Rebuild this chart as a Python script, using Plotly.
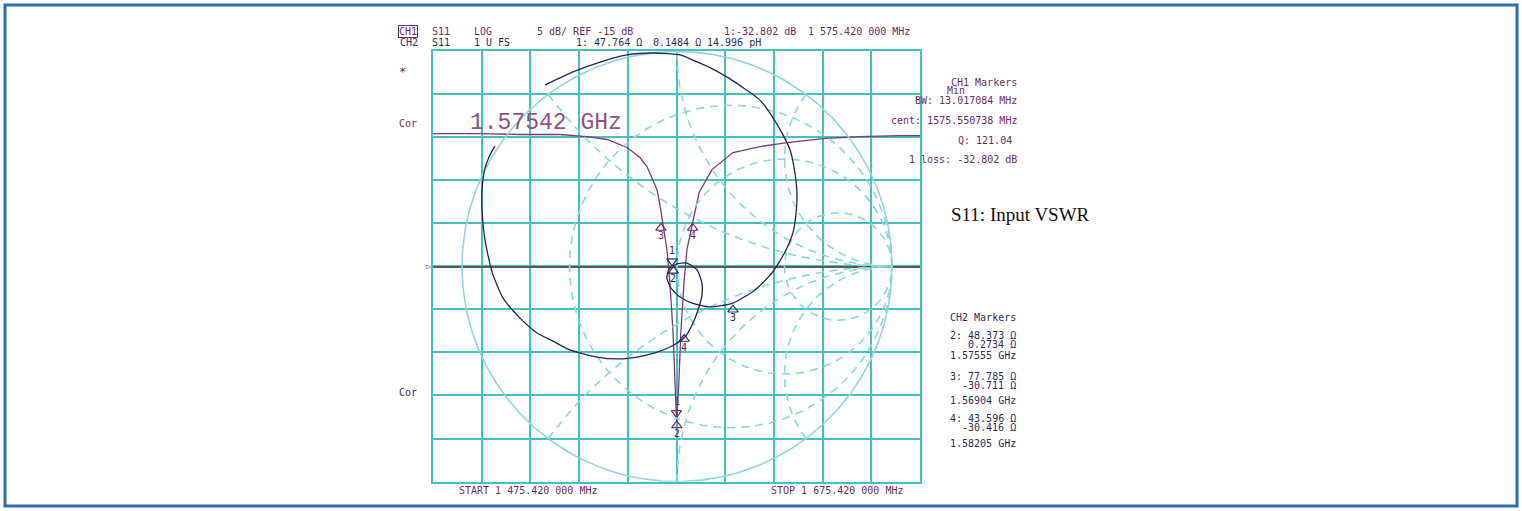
import numpy as np
import plotly.graph_objects as go

W, H = 1522, 511

# ---------------- data ----------------
# CH1 : S11 log magnitude (frequency in MHz, value in dB)
ch1_freq = [1475.42, 1494.7, 1511.1, 1527.6, 1538.7, 1546.9, 1555.1, 1560.4, 1563.3,
            1565.8, 1567.4, 1568.6, 1569.5, 1570.0, 1571.5, 1572.7, 1574.0, 1574.8,
            1575.2, 1575.42, 1575.8, 1576.4, 1577.2, 1578.5, 1579.7, 1581.8, 1584.7,
            1590.0, 1598.6, 1609.7, 1620.8, 1635.6, 1650.8, 1667.2, 1675.42]
ch1_db = [0.37, 0.37, 0.26, 0.26, 0.02, -0.32, -1.25, -2.41, -3.46,
          -4.97, -6.13, -7.87, -9.26, -10.4, -13.1, -16.9, -22.7, -28.5,
          -31.6, -32.8, -31.6, -28.5, -22.7, -16.9, -13.1, -10.4, -6.47,
          -3.81, -1.83, -1.14, -0.67, -0.21, 0.02, 0.14, 0.14]

# CH1 markers
ch1_mk_id = ["1", "2", "3", "4"]
ch1_mk_freq = [1575.42, 1575.55, 1569.04, 1582.05]
ch1_mk_db = [-32.6, -32.9, -10.0, -10.0]

# CH2 : S11 on Smith chart (reflection coefficient, sweep order)
ch2_gre = [-0.614, -0.484, -0.358, -0.233, -0.112, 0.014, 0.074, 0.153, 0.233, 0.316,
           0.386, 0.447, 0.493, 0.526, 0.544, 0.558, 0.553, 0.540, 0.502, 0.442,
           0.363, 0.260, 0.153, 0.070, 0.014, -0.028, -0.047, -0.037, 0.000, 0.047,
           0.093, 0.116, 0.116, 0.098, 0.070, 0.037, -0.023, -0.102, -0.186, -0.279,
           -0.372, -0.498, -0.577, -0.651, -0.730, -0.809, -0.860, -0.893, -0.907, -0.907,
           -0.893, -0.870, -0.847]
ch2_gim = [0.844, 0.905, 0.951, 0.984, 0.993, 0.984, 0.960, 0.925, 0.881, 0.826,
           0.774, 0.691, 0.612, 0.542, 0.463, 0.342, 0.240, 0.160, 0.067, -0.030,
           -0.109, -0.170, -0.188, -0.170, -0.142, -0.100, -0.053, -0.012, 0.012, 0.016,
           -0.016, -0.077, -0.133, -0.202, -0.272, -0.328, -0.370, -0.402, -0.421, -0.430,
           -0.421, -0.388, -0.347, -0.309, -0.240, -0.147, -0.026, 0.123, 0.263, 0.356,
           0.458, 0.519, 0.560]

# CH2 markers (impedance, ohms)
Z0 = 50.0
ch2_mk_id = ["1", "2", "3", "4"]
ch2_mk_r = [47.764, 48.373, 77.785, 43.596]
ch2_mk_x = [0.1484, 0.2734, -30.711, -30.416]

# Smith chart graticule values
SMITH_R = [1 / 3, 1, 3]
SMITH_X = [0.5, 1, 2]

# frequency span / scale
F_START, F_STOP, F_DIV = 1475.42, 1675.42, 20.0
REF_DB, DB_DIV = -15.0, 5.0

# ---------------- styling ----------------
MONO = "DejaVu Sans Mono, Liberation Mono, monospace"
C_CH1 = "#6e2c66"
C_CH2 = "#2c2e5e"
C_GRID = "#44c0c2"
C_SMITH = "#8fd7d9"
C_TR1 = "#7d3a75"
C_TR2 = "#242658"

GX0, GX1, GY0, GY1 = 433, 920, 50.5, 481.7   # grid box in pixels
CX, CY, RAD = 677, 266.5, 215.0             # smith centre / radius in pixels
DB_PER_PX = (10 * DB_DIV) / (GY1 - GY0)
G_PER_PX = 1 / RAD
TRI_OFF = 5.0  # px, so that the triangle tip sits on the trace

fig = go.Figure()

# ---- Smith graticule (overlay axes x2/y2) ----
t = np.linspace(0, 2 * np.pi, 721)
fig.add_trace(go.Scatter(x=np.cos(t), y=np.sin(t), mode="lines", xaxis="x2", yaxis="y2",
                         line=dict(color=C_SMITH, width=1.6), hoverinfo="skip", showlegend=False))
for r in SMITH_R:
    c, rr = r / (1 + r), 1 / (1 + r)
    fig.add_trace(go.Scatter(x=c + rr * np.cos(t), y=rr * np.sin(t), mode="lines",
                             xaxis="x2", yaxis="y2",
                             line=dict(color=C_SMITH, width=1.6, dash="8px,6px"),
                             hoverinfo="skip", showlegend=False))
rs = np.concatenate([[0.0], np.logspace(-3, 3, 600)])
for xv in SMITH_X:
    for s in (1, -1):
        z = rs + 1j * s * xv
        g = (z - 1) / (z + 1)
        fig.add_trace(go.Scatter(x=g.real, y=g.imag, mode="lines", xaxis="x2", yaxis="y2",
                                 line=dict(color=C_SMITH, width=1.6, dash="8px,6px"),
                                 hoverinfo="skip", showlegend=False))

# ---- CH1 log-mag trace ----
fig.add_trace(go.Scatter(x=ch1_freq, y=ch1_db, mode="lines", xaxis="x", yaxis="y",
                         line=dict(color=C_TR1, width=1.3), hoverinfo="skip", showlegend=False))
# ---- CH2 smith trace ----
fig.add_trace(go.Scatter(x=ch2_gre, y=ch2_gim, mode="lines", xaxis="x2", yaxis="y2",
                         line=dict(color=C_TR2, width=1.3, shape="spline", smoothing=0.6),
                         hoverinfo="skip", showlegend=False))

ann = []


def T(x, y, s, color, size=10, xanchor="left", family=MONO, **kw):
    d = dict(x=x / W, y=1 - y / H, xref="paper", yref="paper", text=s, showarrow=False,
             xanchor=xanchor, yanchor="middle", font=dict(family=family, size=size, color=color))
    d.update(kw)
    ann.append(d)


def add_markers(ids, xs, ys, xa, ya, per_px, color):
    for i, xv, yv in zip(ids, xs, ys):
        down = (i == "1")
        yc = yv + per_px * TRI_OFF if down else yv - per_px * TRI_OFF
        fig.add_trace(go.Scatter(x=[xv], y=[yc], mode="markers", xaxis=xa, yaxis=ya,
                                 marker=dict(symbol="triangle-down-open" if down else "triangle-up-open",
                                             size=9, color=color, line=dict(width=1.2, color=color)),
                                 hoverinfo="skip", showlegend=False))
        ann.append(dict(x=xv, y=yv, xref=xa, yref=ya, text=i, showarrow=False,
                        xanchor="center", yanchor="middle", yshift=(16 if down else -13),
                        font=dict(family=MONO, size=10, color=color)))


add_markers(ch1_mk_id, ch1_mk_freq, ch1_mk_db, "x", "y", DB_PER_PX, C_CH1)
g_re, g_im = [], []
for r, x in zip(ch2_mk_r, ch2_mk_x):
    z = complex(r, x) / Z0
    g = (z - 1) / (z + 1)
    g_re.append(g.real)
    g_im.append(g.imag)
add_markers(ch2_mk_id, g_re, g_im, "x2", "y2", G_PER_PX, C_CH2)

# header lines
T(398, 31, "CH1", C_CH1, bordercolor=C_CH1, borderwidth=1, borderpad=0)
T(430, 31, "S11", C_CH1)
T(472, 31, "LOG", C_CH1)
T(535, 31, "5 dB/ REF -15 dB", C_CH1)
T(722, 31, "1:-32.802 dB", C_CH1)
T(806, 31, "1 575.420 000 MHz", C_CH1)
T(398, 42, "CH2", C_CH2)
T(430, 42, "S11", C_CH2)
T(472, 42, "1 U FS", C_CH2)
T(574, 42, "1: 47.764 Ω", C_CH2)
T(651, 42, "0.1484 Ω", C_CH2)
T(705, 42, "14.996 pH", C_CH2)
T(397, 72, "*", C_CH1, size=12)
T(397, 123, "Cor", C_CH1)
T(397, 392, "Cor", C_CH2)
T(428, 266.5, "▷", "#555555", size=8, xanchor="center")

# big frequency readout
T(468, 123, "1.57542 GHz", "#8e5286", size=23, family="Liberation Mono, DejaVu Sans Mono")

# CH1 marker block
T(1019, 82, "CH1 Markers", C_CH1, xanchor="right")
T(945, 90, "Min", C_CH1)
T(1019, 100, "BW: 13.017084 MHz", C_CH1, xanchor="right")
T(1019, 120, "cent: 1575.550738 MHz", C_CH1, xanchor="right")
T(1014, 140, "Q: 121.04", C_CH1, xanchor="right")
T(1019, 159, "1 loss: -32.802 dB", C_CH1, xanchor="right")

T(949, 214, "S11: Input VSWR", "#111111", size=19, family="Liberation Serif, Times New Roman, serif")

# CH2 marker block
T(1018, 317, "CH2 Markers", C_CH2, xanchor="right")
T(1018, 335, "2: 48.373 Ω", C_CH2, xanchor="right")
T(1018, 344, "0.2734 Ω", C_CH2, xanchor="right")
T(1018, 355, "1.57555 GHz", C_CH2, xanchor="right")
T(1018, 376, "3: 77.785 Ω", C_CH2, xanchor="right")
T(1018, 385, "-30.711 Ω", C_CH2, xanchor="right")
T(1018, 400, "1.56904 GHz", C_CH2, xanchor="right")
T(1018, 418, "4: 43.596 Ω", C_CH2, xanchor="right")
T(1018, 427, "-30.416 Ω", C_CH2, xanchor="right")
T(1018, 443, "1.58205 GHz", C_CH2, xanchor="right")

T(457, 490, "START 1 475.420 000 MHz", C_CH1)
T(769, 490, "STOP 1 675.420 000 MHz", C_CH1)

dom_x = [GX0 / W, GX1 / W]
dom_y = [1 - GY1 / H, 1 - GY0 / H]

fig.update_layout(
    width=W, height=H, margin=dict(l=0, r=0, t=0, b=0),
    paper_bgcolor="white", plot_bgcolor="white",
    showlegend=False,
    xaxis=dict(domain=dom_x, range=[F_START, F_STOP], tick0=F_START, dtick=F_DIV,
               showgrid=True, gridcolor=C_GRID, gridwidth=2, zeroline=False,
               showticklabels=False, ticks="", showline=True, mirror=True,
               linecolor=C_GRID, linewidth=2, fixedrange=True),
    yaxis=dict(domain=dom_y, range=[REF_DB - 5 * DB_DIV, REF_DB + 5 * DB_DIV],
               tick0=REF_DB, dtick=DB_DIV,
               showgrid=True, gridcolor=C_GRID, gridwidth=2, zeroline=False,
               showticklabels=False, ticks="", showline=True, mirror=True,
               linecolor=C_GRID, linewidth=2, fixedrange=True),
    xaxis2=dict(overlaying="x", anchor="y2",
                range=[(GX0 - CX) / RAD, (GX1 - CX) / RAD],
                showgrid=False, zeroline=False, showticklabels=False, ticks="", showline=False,
                fixedrange=True),
    yaxis2=dict(overlaying="y", anchor="x2",
                range=[(CY - GY1) / RAD, (CY - GY0) / RAD],
                showgrid=False, zeroline=True, zerolinecolor="#5a5a5a", zerolinewidth=2,
                showticklabels=False, ticks="", showline=False, fixedrange=True),
    annotations=ann,
    shapes=[dict(type="rect", xref="paper", yref="paper", x0=5 / W, x1=1 - 5 / W,
                 y0=5 / H, y1=1 - 5 / H, line=dict(color="#2d6ab4", width=3))],
)

fig.write_html("out.html", config={"displayModeBar": False},
               post_script="document.body.style.margin='0';document.body.style.overflow='hidden';")
